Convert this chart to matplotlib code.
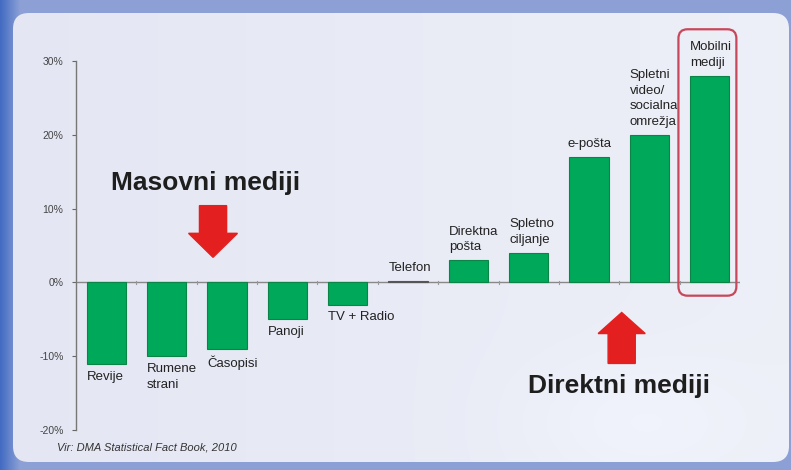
import numpy as np
import matplotlib
matplotlib.use("Agg")
import matplotlib.pyplot as plt
from matplotlib.patches import FancyBboxPatch, FancyArrow
from matplotlib.ticker import FuncFormatter

plt.rcParams['font.family'] = ['Liberation Sans', 'DejaVu Sans']

# ---- data ----
categories = ["Revije", "Rumene\nstrani", "Časopisi", "Panoji", "TV + Radio", "Telefon",
              "Direktna\npošta", "Spletno\nciljanje", "e-pošta",
              "Spletni\nvideo/\nsocialna\nomrežja", "Mobilni\nmediji"]
values = [-11, -10, -9, -5, -3, 0.2, 3, 4, 17, 20, 28]
yticks = [-20, -10, 0, 10, 20, 30]
label_ha = ["left"] * 8 + ["center", "left", "left"]
source = "Vir: DMA Statistical Fact Book, 2010"
group_labels = ["Masovni mediji", "Direktni mediji"]

W, H = 791, 470
fig = plt.figure(figsize=(W / 100, H / 100), dpi=100)

# ---- background ----
bg = fig.add_axes([0, 0, 1, 1])
bg.set_xlim(0, W); bg.set_ylim(H, 0); bg.axis('off')
xx = np.linspace(0, 1, W)[None, :]
yy = np.linspace(0, 1, H)[:, None]
outer = np.zeros((H, W, 3))
base = np.array([0.55, 0.63, 0.84])
deep = np.array([0.26, 0.42, 0.76])
t = np.clip(1 - xx * 40, 0, 1)
outer[:] = base * (1 - t[..., None]) + deep * t[..., None]
bg.imshow(outer, extent=(0, W, H, 0), aspect='auto', zorder=0)

panel = FancyBboxPatch((13, 13), 789 - 13, 462 - 13, boxstyle="round,pad=0,rounding_size=16",
                       facecolor='none', edgecolor='none', zorder=1)
bg.add_patch(panel)
left_c = np.array([0.895, 0.905, 0.955])
right_c = np.array([0.93, 0.94, 0.97])
pimg = left_c * (1 - xx[..., None]) + right_c * xx[..., None]
pimg = pimg + 0.02 * np.exp(-((xx - 0.8) ** 2) / 0.02 - ((yy - 0.9) ** 2) / 0.02)[..., None]
pimg = np.broadcast_to(pimg, (H, W, 3)).clip(0, 1)
im = bg.imshow(pimg, extent=(0, W, H, 0), aspect='auto', zorder=2)
im.set_clip_path(panel)

# ---- main axes ----
ax = fig.add_axes([76 / W, 40 / H, 664 / W, 369 / H])
ax.patch.set_alpha(0)
x = np.arange(len(categories))
green = "#00a85a"
bars = ax.bar(x, values, width=0.65, color=green, edgecolor="#0b8447", linewidth=0.8, zorder=3)
bars[5].set_color("#555555")

ax.set_xlim(-0.5, len(categories) - 0.5)
ax.set_ylim(-20, 30)
ax.set_yticks(yticks)
ax.yaxis.set_major_formatter(FuncFormatter(lambda v, p: f"{v:.0f}%"))
ax.tick_params(axis='y', labelsize=7.5, colors='#666666', labelcolor='#444444', length=3, width=0.8, pad=6)
for s in ['top', 'right', 'bottom']:
    ax.spines[s].set_visible(False)
ax.spines['left'].set_color('#777777')
ax.spines['left'].set_linewidth(1.0)
ax.axhline(0, color='#888888', lw=1.0, zorder=2)
ax.set_xticks([])
for b in np.arange(-0.5, len(categories), 1.0)[1:]:
    ax.plot([b, b], [-0.25, 0.25], color='#999999', lw=0.8, zorder=2)

# category labels
for i, (lab, v) in enumerate(zip(categories, values)):
    ha = label_ha[i]
    xpos = x[i] - 0.325 if ha == 'left' else x[i]
    if v < 0:
        ax.annotate(lab, (xpos, v), xytext=(0, -5), textcoords='offset points',
                    ha=ha, va='top', fontsize=9.5, color='#222222', linespacing=1.4)
    else:
        ax.annotate(lab, (xpos, v), xytext=(0, 5), textcoords='offset points',
                    ha=ha, va='bottom', fontsize=9.5, color='#222222', linespacing=1.4)

# highlight box around last bar
hl = FancyBboxPatch((len(categories) - 1 - 0.52, -1.8), 0.96, values[-1] + 8.1,
                    boxstyle="round,pad=0,rounding_size=0.15", mutation_aspect=8.3,
                    facecolor='none', edgecolor='#c8475a', linewidth=1.6, clip_on=False, zorder=4)
ax.add_patch(hl)

# group labels and arrows
red = "#e3201f"
ax.text(1.64, 13.5, group_labels[0], ha='center', va='center', fontsize=19,
        fontweight='bold', color='#1e1e1e')
ax.text(8.5, -14.0, group_labels[1], ha='center', va='center', fontsize=19,
        fontweight='bold', color='#1e1e1e')
ax.add_patch(FancyArrow(1.77, 10.4, 0, -7.0, width=0.45, head_width=0.81, head_length=3.25,
                        length_includes_head=True, color=red, zorder=5))
ax.add_patch(FancyArrow(8.54, -10.98, 0, 6.9, width=0.45, head_width=0.78, head_length=2.85,
                        length_includes_head=True, color=red, zorder=5))

fig.text(57 / W, 1 - 447 / H, source, ha='left', va='center', fontsize=8,
         style='italic', color='#333333')

fig.savefig("out.png", dpi=100)
